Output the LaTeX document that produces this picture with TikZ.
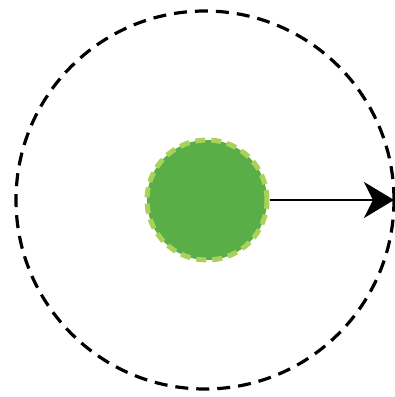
\documentclass[tikz,border=0pt]{standalone}
\usepackage{tikz}
\usetikzlibrary{positioning, arrows.meta}
\definecolor{cellgreen}{RGB}{90,174,72}
\definecolor{rimgreen}{RGB}{170,210,90}

\begin{document}
\begin{tikzpicture}[x=1pt, y=-1pt,
    orbit/.style={draw=black, line width=3.2pt, dash pattern=on 13pt off 8pt},
    core/.style={circle, fill=cellgreen, draw=rimgreen, line width=5pt, dash pattern=on 10pt off 6pt, minimum size=120pt, inner sep=0pt}]
            \useasboundingbox (0,0) rectangle (395,397);
            \coordinate (C) at (205,200);
            \node[circle, orbit, minimum size=378pt, inner sep=0pt] (ring) at (C) {};

            \node[core] (ball) at (207,200) {};
            \coordinate (tip) at (394,200);
            \draw[-{Stealth[length=30pt, width=36pt, inset=9pt]}, line width=2.8pt] (ball.east) -- (tip);
        \end{tikzpicture}
\end{document}
